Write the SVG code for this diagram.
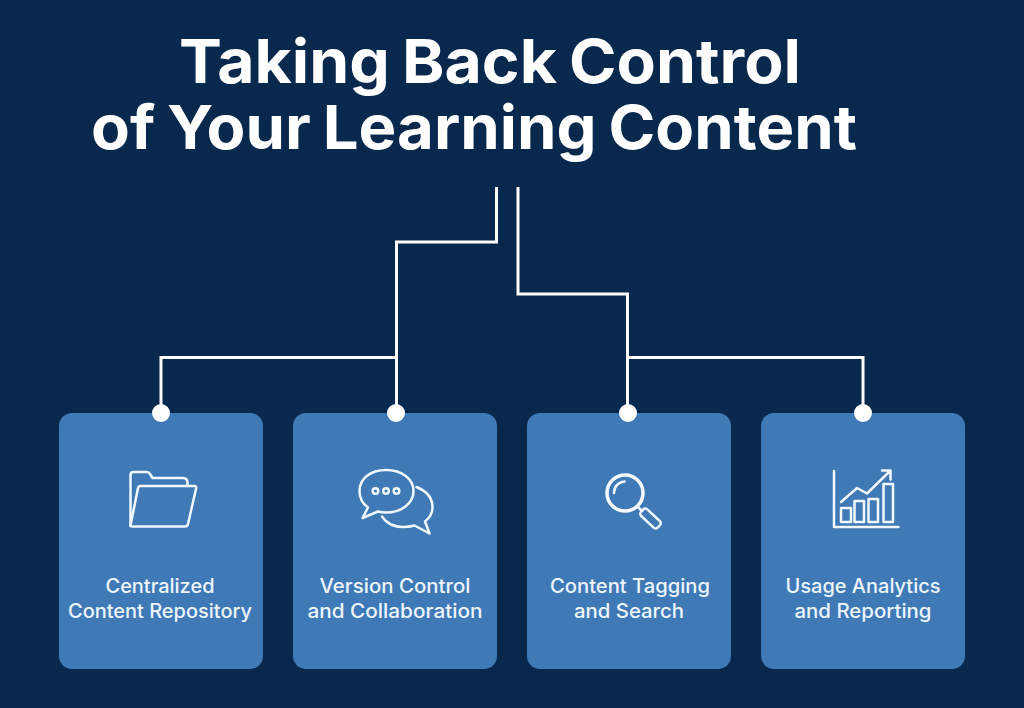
<svg xmlns="http://www.w3.org/2000/svg" width="1024" height="708" viewBox="0 0 1024 708">
<style>
.title{font-family:"Inter","Liberation Sans",sans-serif;font-size:61px;font-weight:700;word-spacing:-3px;fill:#fff;text-anchor:middle}
.label{font-family:"Inter","Liberation Sans",sans-serif;font-size:19.5px;font-weight:500;fill:#eef5fb;text-anchor:middle}
.card{fill:#3f7ab7}
.line{fill:none;stroke:#fff;stroke-width:3;stroke-linejoin:miter}
.dot{fill:#fff}
.icon{fill:none;stroke:#f1f7fc;stroke-width:2.500;stroke-linejoin:round;stroke-linecap:round}
</style>
<rect width="1024" height="708" fill="#09284d"/>
<g id="title">
<text class="title" x="490" y="83" textLength="622" lengthAdjust="spacingAndGlyphs">Taking Back Control</text>
<text class="title" x="474" y="149" textLength="766" lengthAdjust="spacingAndGlyphs">of Your Learning Content</text>
</g>
<g id="connectors">
<path class="line" d="M496.500 187V242H396.500V413"/>
<path class="line" d="M161 413V357.500H396.500"/>
<path class="line" d="M518 187V294H627.500V413"/>
<path class="line" d="M627.500 357.500H863V413"/>
</g>
<g id="node-repository">
<rect class="card" x="59" y="413" width="204" height="256" rx="13"/>
<circle class="dot" cx="161" cy="413" r="9"/>
<path class="icon" d="M130.500 526V475Q130.500 472 133.500 472H147Q149 472 150 474L152.500 478H183Q187.500 478 187.500 483V486"/>
<path class="icon" d="M130.500 525.500L138 488Q138.500 486 140.500 486H194.500Q196.500 486 196.200 488L188 524Q187.500 526.500 185 526.500H132.500Q130.500 526.500 130.500 525"/>
<text class="label" x="160" y="592.500" textLength="109" lengthAdjust="spacingAndGlyphs">Centralized</text>
<text class="label" x="160" y="617.500" textLength="184" lengthAdjust="spacingAndGlyphs">Content Repository</text>
</g>
<g id="node-version">
<rect class="card" x="293" y="413" width="204" height="256" rx="13"/>
<circle class="dot" cx="396" cy="413" r="9"/>
<path class="icon" d="M386 470C370 470 359.500 479 359.500 491C359.500 499 363 504 368 507.500L362.500 518L378 511.500C381 512.300 383.500 512.500 386 512.500C402 512.500 413.500 503 413.500 491C413.500 479 402 470 386 470Z"/>
<circle class="icon" cx="375.500" cy="491" r="2.800"/>
<circle class="icon" cx="386" cy="491" r="2.800"/>
<circle class="icon" cx="396.500" cy="491" r="2.800"/>
<path class="icon" d="M416.500 487C426 491 432.500 498 432.500 507C432.500 513 429.500 518 425 521.500L429.500 533.500L414.500 525.500C411 526.500 407 527 403 527C393 527 386 522.500 382 516.500"/>
<text class="label" x="395" y="592.500" textLength="151" lengthAdjust="spacingAndGlyphs">Version Control</text>
<text class="label" x="395" y="617.500" textLength="175" lengthAdjust="spacingAndGlyphs">and Collaboration</text>
</g>
<g id="node-tagging">
<rect class="card" x="527" y="413" width="204" height="256" rx="13"/>
<circle class="dot" cx="628" cy="413" r="9"/>
<circle cx="625" cy="493" r="18" fill="none" stroke="#f6fafd" stroke-width="3.500"/>
<path class="icon" d="M614 493C614 487 618 482 624.500 481.500" stroke-width="2"/>
<path class="icon" d="M638 507L642 511"/>
<rect class="icon" x="-11.500" y="-4.500" width="23" height="9" rx="3" transform="translate(650.500 518.500) rotate(43)"/>
<text class="label" x="630" y="592.500" textLength="160" lengthAdjust="spacingAndGlyphs">Content Tagging</text>
<text class="label" x="629" y="617.500" textLength="110" lengthAdjust="spacingAndGlyphs">and Search</text>
</g>
<g id="node-analytics">
<rect class="card" x="761" y="413" width="204" height="256" rx="13"/>
<circle class="dot" cx="863" cy="413" r="9"/>
<path class="icon" d="M834 471V527H898.500" stroke-linecap="butt"/>
<rect class="icon" x="841" y="508" width="10" height="14"/>
<rect class="icon" x="854.500" y="501" width="9.500" height="21"/>
<rect class="icon" x="868.500" y="499" width="9.500" height="23"/>
<rect class="icon" x="883.500" y="484" width="9.500" height="38"/>
<path class="icon" d="M841 502L857 488L867 493.500L890 471M882 470.500H890.500V479.500"/>
<text class="label" x="863" y="592.500" textLength="155" lengthAdjust="spacingAndGlyphs">Usage Analytics</text>
<text class="label" x="863" y="617.500" textLength="137" lengthAdjust="spacingAndGlyphs">and Reporting</text>
</g>
</svg>
